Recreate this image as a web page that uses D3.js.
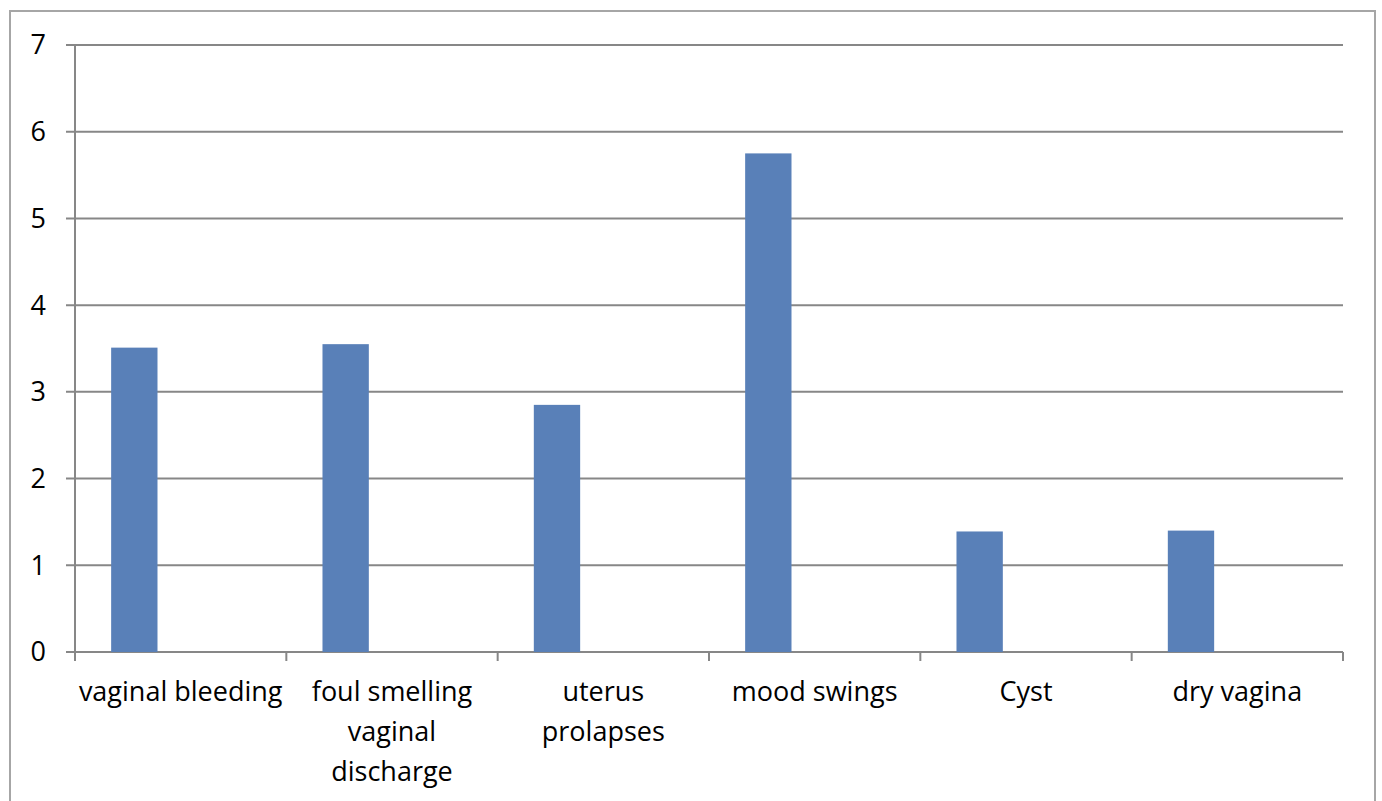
<!DOCTYPE html>
<html><head><meta charset="utf-8">
<script src="https://cdn.jsdelivr.net/npm/d3@7"></script>
<style>html,body{margin:0;padding:0;background:#fff;}svg{display:block;}</style>
</head><body>
<script>
const categories = ["vaginal bleeding","foul smelling vaginal discharge","uterus prolapses","mood swings","Cyst","dry vagina"];
const categoryLines = [["vaginal bleeding"],["foul smelling","vaginal","discharge"],["uterus","prolapses"],["mood swings"],["Cyst"],["dry vagina"]];
const values = [3.51, 3.55, 2.85, 5.75, 1.39, 1.40];
const yTicks = [0,1,2,3,4,5,6,7];

(function(){
const W = 1382, H = 801;
const svg = d3.select("body").append("svg").attr("width", W).attr("height", H);
svg.append("rect").attr("x",10).attr("y",11).attr("width",1365).attr("height",H).attr("fill","#fff").attr("stroke","#a6a6a6").attr("stroke-width",2);

const pL = 75, pR = 1343, pT = 45, pB = 652;
const x = d3.scaleBand().domain(categories).range([pL, pR]).paddingInner(0).paddingOuter(0);
const sub = d3.scaleBand().domain([0,1,2]).range([0, x.bandwidth()]).paddingOuter(0.78).paddingInner(0);
const y = d3.scaleLinear().domain([0,7]).range([pB, pT]);
const font = "'Open Sans', 'Liberation Sans', sans-serif";
const gridColor = "#878787";
const fs = 27;

svg.append("g").selectAll("line").data(yTicks).join("line")
  .attr("x1", pL - 9).attr("x2", pR)
  .attr("y1", d => y(d)).attr("y2", d => y(d))
  .attr("stroke", gridColor).attr("stroke-width", 2);

svg.append("line").attr("x1", pL).attr("x2", pL).attr("y1", pT).attr("y2", pB + 9)
  .attr("stroke", gridColor).attr("stroke-width", 2);

svg.append("g").selectAll("text").data(yTicks).join("text")
  .attr("x", 46).attr("y", d => y(d)).attr("dy", "0.35em")
  .attr("text-anchor", "end").attr("font-family", font).attr("font-size", fs).attr("fill", "#000")
  .text(d => d);

const bounds = categories.map(c => x(c)).concat([pR]);
svg.append("g").selectAll("line").data(bounds).join("line")
  .attr("x1", d => d).attr("x2", d => d).attr("y1", pB).attr("y2", pB + 9)
  .attr("stroke", gridColor).attr("stroke-width", 2);

svg.append("g").selectAll("rect").data(values).join("rect")
  .attr("x", (d,i) => x(categories[i]) + sub(0))
  .attr("width", sub.bandwidth())
  .attr("y", d => y(d)).attr("height", d => y(0) - y(d))
  .attr("fill", "#5980b8");

const lg = svg.append("g");
categories.forEach((c,i) => {
  const cx = x(c) + x.bandwidth()/2;
  const t = lg.append("text").attr("x", cx).attr("y", 701)
    .attr("text-anchor","middle").attr("font-family", font).attr("font-size", fs).attr("fill","#000");
  categoryLines[i].forEach((ln,j) => {
    t.append("tspan").attr("x", cx).attr("dy", j === 0 ? 0 : 40).text(ln);
  });
});
})();
</script>
</body></html>
